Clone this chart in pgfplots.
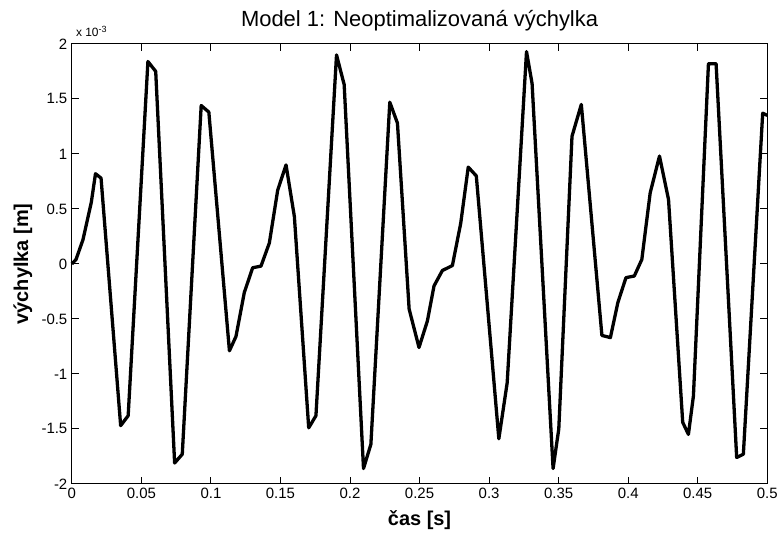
\documentclass[border=0pt]{standalone}
\usepackage{fontspec}
\setmainfont{Liberation Sans}
\usepackage{pgfplots}
\pgfplotsset{compat=1.18}

\begin{document}
\begin{tikzpicture}
	\begin{axis}[
		scale only axis, width=697pt, height=441pt,
		xmin=0, xmax=0.5, ymin=-2, ymax=2,
		xtick={0,0.05,...,0.5}, ytick={-2,-1.5,...,2},
		xticklabels={0,0.05,0.1,0.15,0.2,0.25,0.3,0.35,0.4,0.45,0.5},
		yticklabels={-2,-1.5,-1,-0.5,0,0.5,1,1.5,2},
		tick align=inside, major tick length=7pt,
		axis line style={line width=0.9pt}, tick style={line width=0.9pt, black},
		ticklabel style={font=\fontsize{15}{15}\selectfont},
		xticklabel style={yshift=-1pt},
		yticklabel style={xshift=-1pt},
		clip=false,
	]
		\addplot [line width=3.3pt, black, line join=round, mark=none] coordinates {
			(0,0) (0.003,0.04) (0.008,0.22) (0.014,0.56) (0.017,0.82) (0.021,0.78)
			(0.0351,-1.47) (0.0405,-1.38) (0.0547,1.84) (0.0603,1.75)
			(0.0739,-1.81) (0.0794,-1.73) (0.093,1.44) (0.0985,1.38)
			(0.1133,-0.79) (0.118,-0.66) (0.124,-0.26) (0.130,-0.035) (0.136,-0.02)
			(0.142,0.19) (0.148,0.67) (0.154,0.90) (0.160,0.43)
			(0.1703,-1.49) (0.1755,-1.38) (0.1903,1.90) (0.1958,1.63)
			(0.2097,-1.86) (0.215,-1.64) (0.2286,1.47) (0.2341,1.28)
			(0.2425,-0.41) (0.2496,-0.76) (0.2556,-0.52) (0.2604,-0.20)
			(0.2664,-0.06) (0.2736,-0.015) (0.2796,0.37) (0.285,0.88) (0.2908,0.80)
			(0.307,-1.59) (0.313,-1.08) (0.3269,1.93) (0.3309,1.64)
			(0.346,-1.86) (0.3501,-1.50) (0.3596,1.16) (0.3663,1.45)
			(0.3811,-0.65) (0.3872,-0.67) (0.3926,-0.35) (0.3984,-0.125)
			(0.4044,-0.11) (0.4098,0.04) (0.4158,0.645) (0.4225,0.98) (0.429,0.585)
			(0.4392,-1.44) (0.4433,-1.55) (0.4469,-1.20)
			(0.4577,1.82) (0.4632,1.82) (0.478,-1.76) (0.4828,-1.73)
			(0.4967,1.37) (0.5,1.35)
		};
		% title, labels and the MATLAB exponent
		\node[anchor=base, font=\fontsize{22}{22}\selectfont] at ([yshift=17pt]rel axis cs:0.5,1) {Model 1: Neoptimalizovaná výchylka};
		\node[anchor=base, font=\fontsize{20}{20}\selectfont\bfseries] at ([yshift=-42pt]rel axis cs:0.5,0) {čas [s]};
		\node[anchor=center, rotate=90, font=\fontsize{20}{20}\selectfont\bfseries] at ([xshift=-49pt]rel axis cs:0,0.5) {výchylka [m]};
		\node[anchor=base west, font=\fontsize{12}{12}\selectfont, inner sep=0pt] at ([xshift=4pt, yshift=7pt]rel axis cs:0,1) {x 10\raisebox{4pt}{\fontsize{9}{9}\selectfont -3}};
	\end{axis}
	\path[use as bounding box] (-72pt,-48pt) rectangle (709pt,485pt);
\end{tikzpicture}
\end{document}
